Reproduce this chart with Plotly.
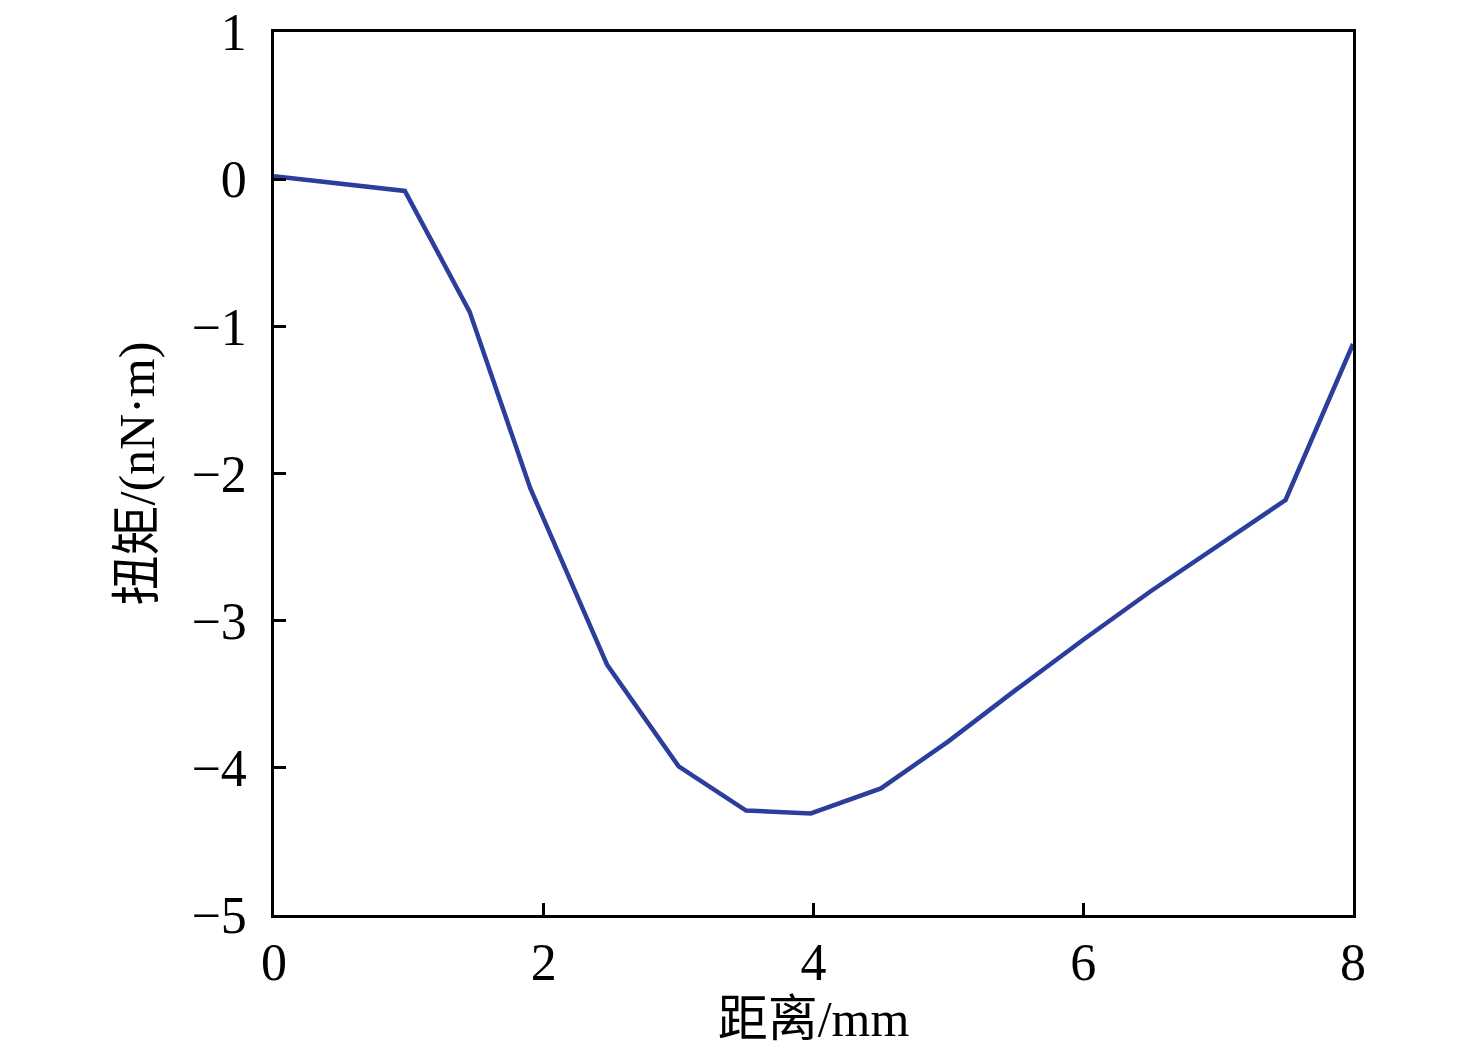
import plotly.graph_objects as go

# distance (mm) and torque (nN·m)
distance = [0, 0.97, 1.45, 1.9, 2.47, 3.0, 3.5, 3.98, 4.5, 5.0, 5.5, 6.0, 6.5, 7.0, 7.5, 8.0]
torque = [0.02, -0.08, -0.9, -2.1, -3.3, -3.99, -4.29, -4.31, -4.14, -3.82, -3.47, -3.13, -2.8, -2.49, -2.18, -1.12]

x_ticks = [0, 2, 4, 6, 8]
y_ticks = [1, 0, -1, -2, -3, -4, -5]

font_family = "Liberation Serif, Noto Sans CJK SC"

fig = go.Figure()
fig.add_trace(go.Scatter(
    x=distance,
    y=torque,
    mode='lines',
    line=dict(color='#2B3E9B', width=4.5),
    showlegend=False,
))

axis_common = dict(
    showgrid=False,
    zeroline=False,
    showline=True,
    linecolor='black',
    linewidth=2.5,
    mirror=True,
    ticks='inside',
    ticklen=12,
    tickwidth=2.5,
    tickcolor='black',
    automargin=False,
    ticklabeloverflow='allow',
    tickfont=dict(family=font_family, size=52, color='black'),
)

fig.update_xaxes(
    range=[0, 8],
    tickvals=x_ticks,
    ticklabelstandoff=0,
    title=dict(text='距离/mm', font=dict(family=font_family, size=50, color='black'), standoff=6),
    **axis_common
)
fig.update_yaxes(
    range=[-5, 1],
    tickvals=y_ticks,
    ticklabelstandoff=14,
    title=dict(text='扭矩/(nN·m)', font=dict(family=font_family, size=50, color='black'), standoff=22),
    **axis_common
)

fig.update_layout(
    width=1476,
    height=1059,
    margin=dict(l=266, r=131, t=24, b=152),
    plot_bgcolor='white',
    paper_bgcolor='white',
)

fig.write_html("out.html")
